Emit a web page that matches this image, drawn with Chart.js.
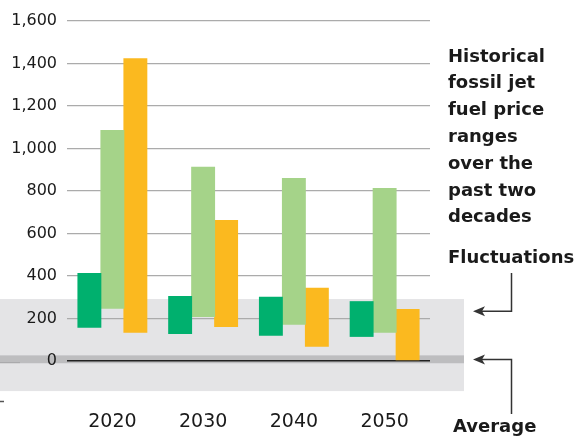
<!DOCTYPE html>
<html>
<head>
<meta charset="utf-8">
<script src="https://cdn.jsdelivr.net/npm/chart.js@4/dist/chart.umd.min.js"></script>
<style>
  html, body { margin: 0; padding: 0; background: #fff; }
  #wrap { width: 576px; height: 438px; }
</style>
</head>
<body>
<div id="wrap"><canvas id="priceChart"></canvas></div>
<script>
// data
const years = ['2020', '2030', '2040', '2050'];
const rangeDarkGreen = [[157, 415], [128, 306], [119, 303], [114, 282]];
const rangeLightGreen = [[246, 1087], [208, 914], [171, 861], [133, 814]];
const rangeOrange = [[133, 1425], [161, 664], [67, 345], [0, 245]];
const yTicks = [0, 200, 400, 600, 800, 1000, 1200, 1400, 1600];

// historical band (fluctuations) and average band, in axis units
const fluctuationBand = [-141, 292];
const averageBand = [-10, 27];

const noteLines = ['Historical', 'fossil jet', 'fuel price', 'ranges', 'over the', 'past two', 'decades'];

const FONT = "'DejaVu Sans', sans-serif";

const backdrop = {
  id: 'backdrop',
  beforeDraw(chart) {
    const ctx = chart.ctx;
    const y = chart.scales.y;
    ctx.save();
    ctx.fillStyle = '#e4e4e6';
    let top = y.getPixelForValue(fluctuationBand[1]);
    let bot = y.getPixelForValue(fluctuationBand[0]);
    ctx.fillRect(0, top, 464, bot - top);
    ctx.fillStyle = '#bdbdbf';
    top = y.getPixelForValue(averageBand[1]);
    bot = y.getPixelForValue(averageBand[0]);
    ctx.fillRect(0, top, 464, bot - top);
    // little leftover marks at the left edge
    ctx.strokeStyle = '#a8a8aa';
    ctx.lineWidth = 1;
    ctx.beginPath();
    ctx.moveTo(0, y.getPixelForValue(0) + 1.5);
    ctx.lineTo(20, y.getPixelForValue(0) + 1.5);
    ctx.stroke();
    ctx.strokeStyle = '#555';
    ctx.lineWidth = 1.5;
    ctx.beginPath();
    ctx.moveTo(0, 401.5);
    ctx.lineTo(4, 401.5);
    ctx.stroke();
    ctx.restore();
  }
};

function arrowHead(ctx, x, y) {
  ctx.beginPath();
  ctx.moveTo(x, y);
  ctx.lineTo(x + 12, y - 5);
  ctx.lineTo(x + 9, y);
  ctx.lineTo(x + 12, y + 5);
  ctx.closePath();
  ctx.fill();
}

const notes = {
  id: 'notes',
  afterDraw(chart) {
    const ctx = chart.ctx;
    const y = chart.scales.y;
    ctx.save();
    ctx.fillStyle = '#1a1a1a';
    ctx.font = 'bold 18px ' + FONT;
    ctx.textAlign = 'left';
    ctx.textBaseline = 'middle';
    noteLines.forEach((t, i) => ctx.fillText(t, 448, 57 + i * 26.8));
    ctx.fillText('Fluctuations', 448, 258);
    ctx.fillText('Average', 453, 427);

    ctx.strokeStyle = '#333';
    ctx.fillStyle = '#333';
    ctx.lineWidth = 1.5;
    const yFluct = y.getPixelForValue(235);
    ctx.beginPath();
    ctx.moveTo(511.5, 273);
    ctx.lineTo(511.5, yFluct);
    ctx.lineTo(482, yFluct);
    ctx.stroke();
    arrowHead(ctx, 473, yFluct);

    const yAvg = y.getPixelForValue(8);
    ctx.beginPath();
    ctx.moveTo(511.5, 414);
    ctx.lineTo(511.5, yAvg);
    ctx.lineTo(482, yAvg);
    ctx.stroke();
    arrowHead(ctx, 473, yAvg);
    ctx.restore();
  }
};

new Chart(document.getElementById('priceChart'), {
  type: 'bar',
  data: {
    labels: years,
    datasets: [{
      label: 'Range 1',
      data: rangeDarkGreen,
      backgroundColor: '#00b06e'
    }, {
      label: 'Range 2',
      data: rangeLightGreen,
      backgroundColor: '#a5d389'
    }, {
      label: 'Range 3',
      data: rangeOrange,
      backgroundColor: '#fbb91f'
    }]
  },
  options: {
    responsive: true,
    maintainAspectRatio: false,
    animation: false,
    layout: { padding: { top: 21, right: 146, bottom: 0, left: 0 } },
    datasets: { bar: { barPercentage: 1.04, categoryPercentage: 0.76, borderSkipped: false } },
    plugins: {
      legend: { display: false },
      tooltip: { enabled: false }
    },
    scales: {
      x: {
        grid: { display: false },
        border: { display: false },
        ticks: { color: '#1a1a1a', font: { family: FONT, size: 19 }, padding: 10 },
        afterFit(scale) { scale.height = 45; }
      },
      y: {
        min: -150,
        max: 1600,
        afterBuildTicks(scale) { scale.ticks = yTicks.map(v => ({ value: v })); },
        grid: {
          drawTicks: false,
          color: ctx => ctx.tick && ctx.tick.value === 0 ? '#222' : '#ababab',
          lineWidth: ctx => ctx.tick && ctx.tick.value === 0 ? 1.6 : 1.3
        },
        border: { display: false },
        ticks: {
          color: '#1a1a1a',
          font: { family: FONT, size: 16 },
          padding: 10,
          callback: v => v.toLocaleString('en-US')
        },
        afterFit(scale) { scale.width = 67; }
      }
    }
  },
  plugins: [backdrop, notes]
});
</script>
</body>
</html>
